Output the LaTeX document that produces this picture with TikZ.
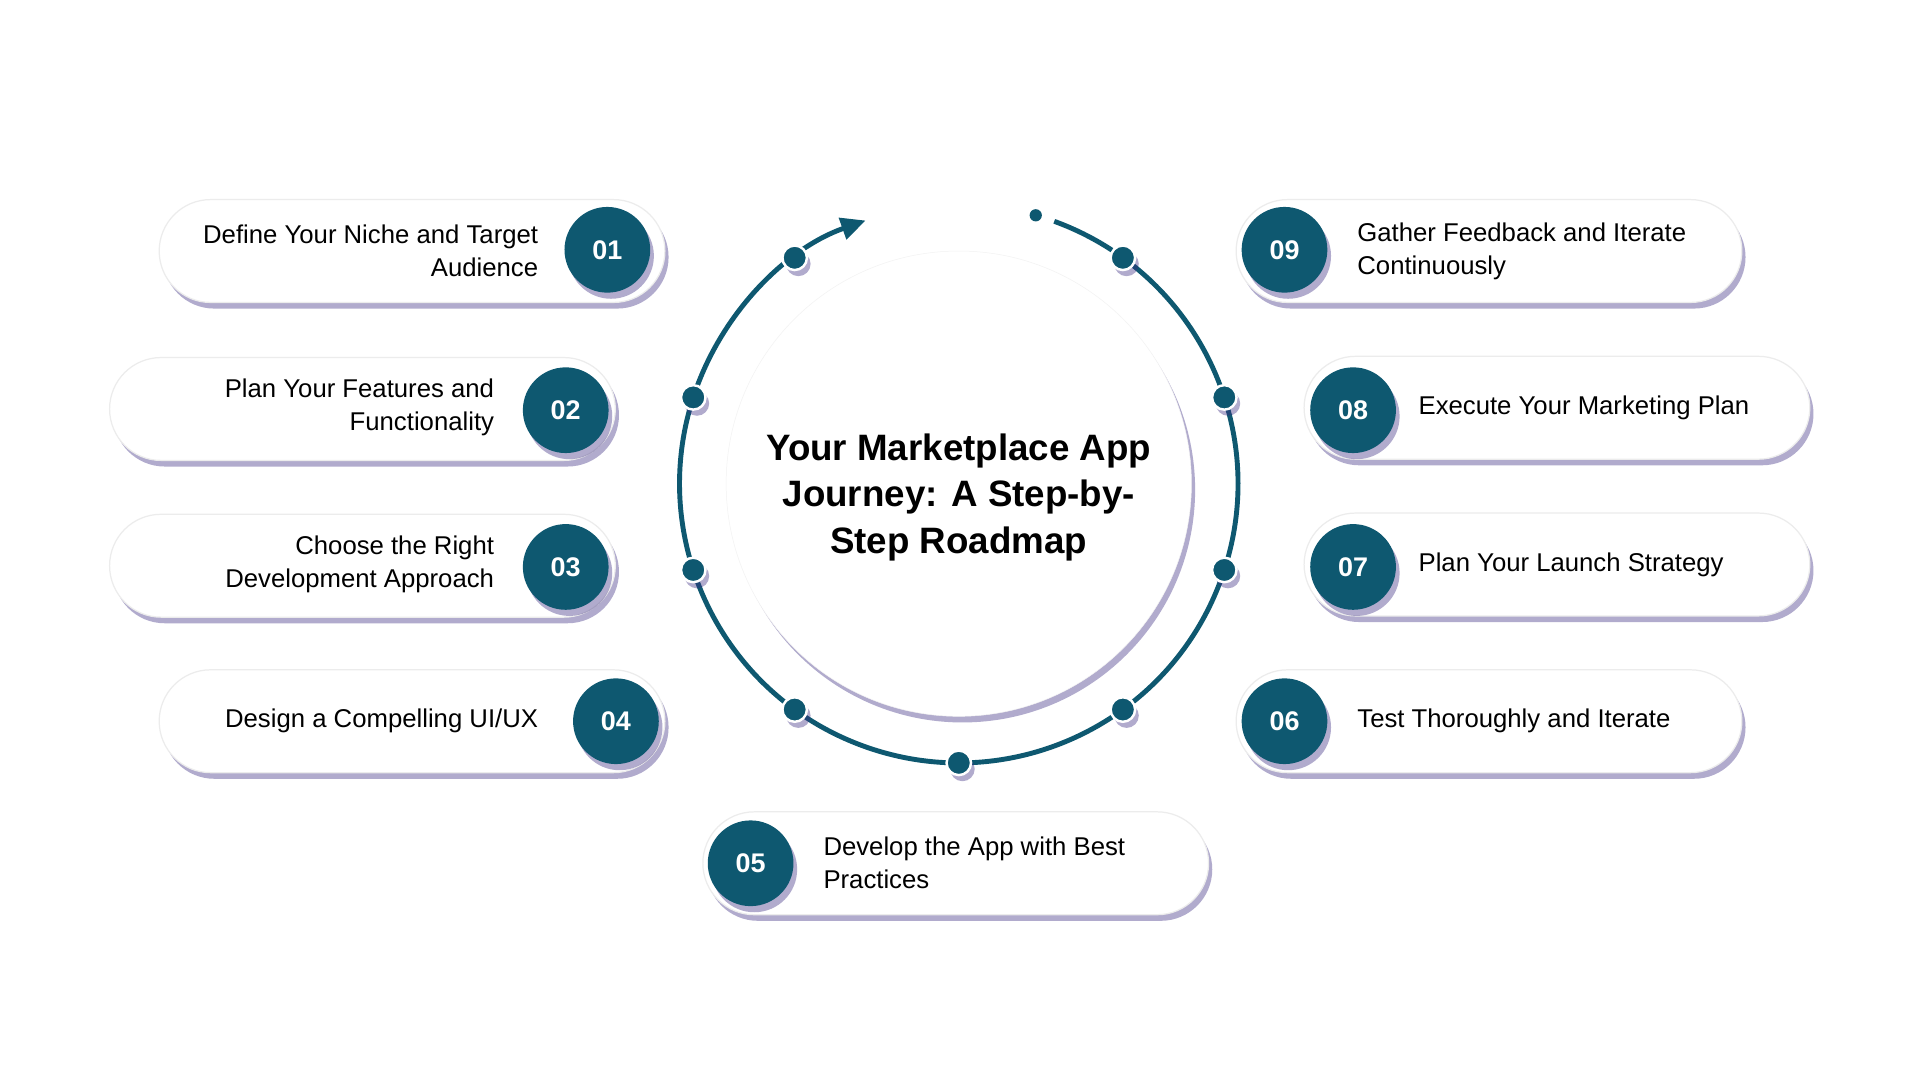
\documentclass[tikz,border=0pt]{standalone}
\usepackage{fontspec}
\setmainfont{Liberation Sans}
\usetikzlibrary{shadows,arrows.meta,calc}
\definecolor{tealc}{RGB}{14,88,112}
\definecolor{shadowc}{RGB}{60,45,130}
\tikzset{
  x=1pt,y=-1pt,
  sh/.style={drop shadow={shadow xshift=3pt,shadow yshift=-5pt,fill=shadowc,opacity=0.4}},
  pill/.style={draw=gray!15,line width=1pt,fill=white,rounded corners=42pt,minimum height=84pt,minimum width=413pt,sh},
  num/.style={circle,fill=tealc,minimum size=70pt,text=white,font=\fontsize{22}{24}\selectfont\bfseries,sh},
  ltxt/.style={align=right,anchor=east,font=\fontsize{21}{27}\selectfont},
  rtxt/.style={align=left,anchor=west,font=\fontsize{21}{27}\selectfont},
  rdot/.style={circle,fill=tealc,draw=white,line width=2pt,minimum size=20pt,inner sep=0pt,sh},
}
\begin{document}
\begin{tikzpicture}
\fill[white] (0,0) rectangle (1568,882);
\useasboundingbox (0,0) rectangle (1568,882);
\coordinate (C) at (783,395);
% ring
\draw[tealc,line width=4pt,-{Triangle[length=20pt,width=18pt]}] (C) ++(-70:228) arc[start angle=-70,end angle=250.5,radius=228];
\fill[tealc] (C) ++(-74:228) circle (5pt);
\foreach \a [count=\i] in {126,162,198,234,270,306,342,18,54}
  \node[rdot] (d\i) at ($(C)+(-\a:228)$) {};
% center
\node[circle,fill=white,minimum size=380pt,sh,draw=gray!10] (center) at (C) {};
\node[align=center,font=\fontsize{30}{38}\selectfont\bfseries] (title) at (783,406) {Your Marketplace App\\Journey: A Step-by-\\Step Roadmap};
% left
\node[pill] (p1) at (336.5,205) {};
\node[num] (n1) at (496,204) {01};
\node[ltxt] (t1) at (443,205) {Define Your Niche and Target\\Audience};
\node[pill] (p2) at (296,334) {};
\node[num] (n2) at (462,335) {02};
\node[ltxt] (t2) at (407,333) {Plan Your Features and\\Functionality};
\node[pill] (p3) at (296,462) {};
\node[num] (n3) at (462,463) {03};
\node[ltxt] (t3) at (407,461) {Choose the Right\\Development Approach};
\node[pill] (p4) at (336.5,589) {};
\node[num] (n4) at (503,589) {04};
\node[ltxt] (t4) at (443,589) {Design a Compelling UI/UX};
% bottom
\node[pill] (p5) at (780.5,705) {};
\node[num] (n5) at (613,705) {05};
\node[rtxt] (t5) at (669,705) {Develop the App with Best\\Practices};
% right
\node[pill] (p6) at (1216,589) {};
\node[num] (n6) at (1049,589) {06};
\node[rtxt] (t6) at (1105,589) {Test Thoroughly and Iterate};
\node[pill] (p7) at (1271.5,461) {};
\node[num] (n7) at (1105,463) {07};
\node[rtxt] (t7) at (1155,461) {Plan Your Launch Strategy};
\node[pill] (p8) at (1271.5,333) {};
\node[num] (n8) at (1105,335) {08};
\node[rtxt] (t8) at (1155,333) {Execute Your Marketing Plan};
\node[pill] (p9) at (1216,205) {};
\node[num] (n9) at (1049,204) {09};
\node[rtxt] (t9) at (1105,205) {Gather Feedback and Iterate\\Continuously};
\end{tikzpicture}
\end{document}
